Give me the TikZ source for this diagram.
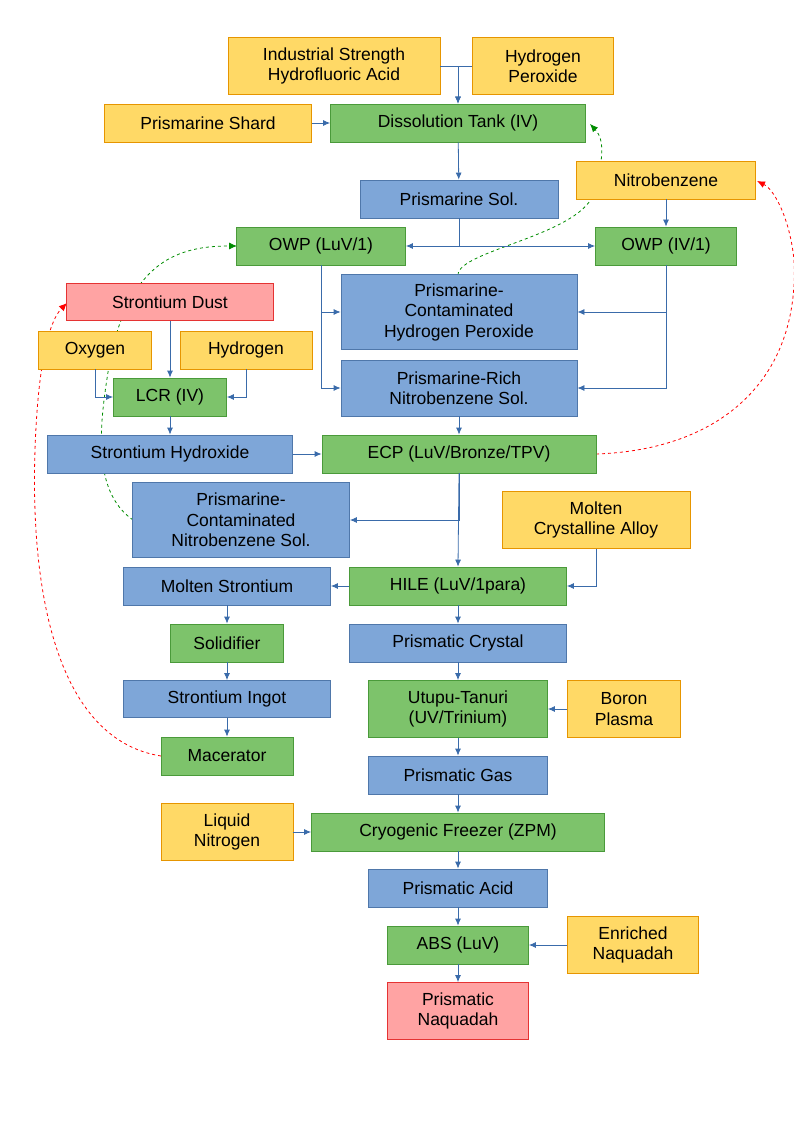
\documentclass[tikz,border=0pt]{standalone}
\usepackage{fontspec}
\setmainfont{Liberation Sans}
\usetikzlibrary{arrows.meta}
\definecolor{yf}{HTML}{FFD966}\definecolor{yd}{HTML}{E69500}
\definecolor{gf}{HTML}{7DC36B}\definecolor{gd}{HTML}{4A9A3A}
\definecolor{bf}{HTML}{7EA6D8}\definecolor{bd}{HTML}{4F77AA}
\definecolor{rf}{HTML}{FFA3A3}\definecolor{rd}{HTML}{E53333}
\definecolor{ar}{HTML}{3A6BAA}
\begin{document}
\begin{tikzpicture}[x=1pt,y=-1pt,
 box/.style={draw,line width=0.8pt,inner sep=0pt,align=center,font=\fontsize{17.5}{20.5}\selectfont},
 Y/.style={box,fill=yf,draw=yd},G/.style={box,fill=gf,draw=gd},
 B/.style={box,fill=bf,draw=bd},R/.style={box,fill=rf,draw=rd},
 s/.style 2 args={minimum width=#1pt,minimum height=#2pt},
 e/.style={draw=ar,line width=0.8pt,-{Latex[length=7pt,width=6pt]}},
 gd/.style={draw=green!55!black,dashed,line width=0.8pt,-{Latex[length=8pt,width=7pt]}},
 rdl/.style={draw=red,dashed,line width=0.8pt,-{Latex[length=8pt,width=7pt]}}]
\useasboundingbox (0,0) rectangle (794,1123);
\coordinate (pchpN) at (458,275);
\draw[gd] (pchpN) .. controls (458,250) and (585,235) .. (595,190) .. controls (603,160) and (605,140) .. (590,124);
\draw[gd] (133,520) .. controls (90,490) and (100,420) .. (110,360) .. controls (130,260) and (180,246) .. (237,246);
\draw[rdl] (596,454) .. controls (720,450) and (800,380) .. (794,260) .. controls (790,220) and (775,190) .. (757,181);
\draw[rdl] (161,756) .. controls (60,740) and (30,600) .. (35,450) .. controls (38,360) and (50,320) .. (67,303);
\node[Y,s={212}{57}] (hf) at (334,66) {Industrial Strength\\Hydrofluoric Acid};
\node[Y,s={141}{57}] (hp) at (543,66) {Hydrogen\\Peroxide};
\node[Y,s={207}{38}] (ps) at (208,123) {Prismarine Shard};
\node[G,s={255}{38}] (dt) at (458,123) {Dissolution Tank (IV)};
\node[B,s={198}{38}] (sol) at (459,199) {Prismarine Sol.};
\node[Y,s={179}{38}] (nb) at (666,180) {Nitrobenzene};
\node[G,s={169}{38}] (owl) at (321,246) {OWP (LuV/1)};
\node[G,s={141}{38}] (owi) at (666,246) {OWP (IV/1)};
\node[B,s={236}{75}] (pchp) at (459,312) {Prismarine-\\Contaminated\\Hydrogen Peroxide};
\node[R,s={207}{37}] (sd) at (170,302) {Strontium Dust};
\node[Y,s={113}{38}] (ox) at (95,350) {Oxygen};
\node[Y,s={132}{38}] (hy) at (246,350) {Hydrogen};
\node[G,s={113}{38}] (lcr) at (170,397) {LCR (IV)};
\node[B,s={236}{56}] (prn) at (459,388) {Prismarine-Rich\\Nitrobenzene Sol.};
\node[B,s={245}{38}] (sh) at (170,454) {Strontium Hydroxide};
\node[G,s={274}{38}] (ecp) at (459,454) {ECP (LuV/Bronze/TPV)};
\node[B,s={217}{75}] (pcn) at (241,520) {Prismarine-\\Contaminated\\Nitrobenzene Sol.};
\node[Y,s={188}{57}] (mca) at (596,520) {Molten\\Crystalline Alloy};
\node[B,s={207}{38}] (ms) at (227,586) {Molten Strontium};
\node[G,s={217}{38}] (hile) at (458,586) {HILE (LuV/1para)};
\node[G,s={113}{38}] (so) at (227,643) {Solidifier};
\node[B,s={217}{38}] (pc) at (458,643) {Prismatic Crystal};
\node[B,s={207}{37}] (si) at (227,699) {Strontium Ingot};
\node[G,s={179}{57}] (ut) at (458,709) {Utupu-Tanuri\\(UV/Trinium)};
\node[Y,s={113}{57}] (bp) at (624,709) {Boron\\Plasma};
\node[G,s={132}{38}] (mac) at (227,756) {Macerator};
\node[B,s={179}{38}] (pg) at (458,775) {Prismatic Gas};
\node[Y,s={132}{57}] (ln) at (227,832) {Liquid\\Nitrogen};
\node[G,s={293}{38}] (cf) at (458,832) {Cryogenic Freezer (ZPM)};
\node[B,s={179}{38}] (pa) at (458,888) {Prismatic Acid};
\node[G,s={141}{38}] (abs) at (458,945) {ABS (LuV)};
\node[Y,s={131}{57}] (en) at (633,945) {Enriched\\Naquadah};
\node[R,s={141}{57}] (pn) at (458,1011) {Prismatic\\Naquadah};
\draw[e] (hf.east) -| (dt.north);
\draw[e] (hp.west) -| (dt.north);
\draw[e] (ps) -- (dt);
\draw[e] (dt) -- (sol);
\draw[e] (sol.south) |- (owl.east);
\draw[e] (sol.south) |- (owi.west);
\draw[e] (nb) -- (owi);
\draw[e] (owl.south) |- (pchp.west);
\draw[e] (owl.south) |- (prn.west);
\draw[e] (owi.south) |- (pchp.east);
\draw[e] (owi.south) |- (prn.east);
\draw[e] (prn) -- (ecp);
\draw[e] (sd) -- (lcr);
\draw[e] (ox.south) |- (lcr.west);
\draw[e] (hy.south) |- (lcr.east);
\draw[e] (lcr) -- (sh);
\draw[e] (sh) -- (ecp);
\draw[e] (ecp.south) |- (pcn.east);
\draw[e] (ecp.south) -- (hile.north);
\draw[e] (mca.south) |- (hile.east);
\draw[e] (hile) -- (ms);
\draw[e] (hile) -- (pc);
\draw[e] (ms) -- (so);
\draw[e] (so) -- (si);
\draw[e] (si) -- (mac);
\draw[e] (pc) -- (ut);
\draw[e] (bp) -- (ut);
\draw[e] (ut) -- (pg);
\draw[e] (pg) -- (cf);
\draw[e] (ln) -- (cf);
\draw[e] (cf) -- (pa);
\draw[e] (pa) -- (abs);
\draw[e] (en) -- (abs);
\draw[e] (abs) -- (pn);
\end{tikzpicture}
\end{document}
